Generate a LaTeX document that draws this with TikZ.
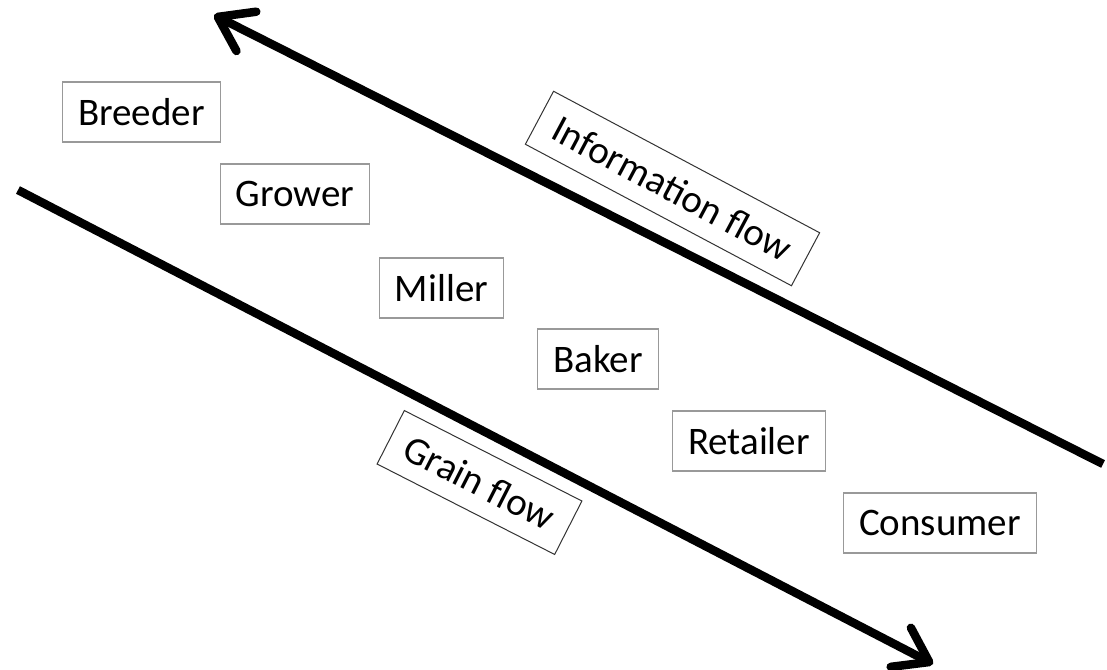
\documentclass[tikz,border=0pt]{standalone}
\usepackage{fontspec}
\setmainfont{Carlito}
\usetikzlibrary{arrows.meta}

\begin{document}
\begin{tikzpicture}[x=1pt,y=-1pt,
    actor/.style={draw=gray!80,line width=1.3pt,minimum height=60pt,inner xsep=15.5pt,font=\fontsize{39}{42}\selectfont},
    flowlabel/.style={draw=black!80,line width=1pt,minimum height=60pt,inner xsep=18pt,font=\fontsize{39}{42}\selectfont},
    flow/.style={line width=8.5pt,-{Straight Barb[length=32pt,width=44pt,line cap=round,line join=round]}}]
    \useasboundingbox (0,0) rectangle (1107,669);
    \node[actor] (breeder) at (141.5,112) {Breeder};
    \node[actor] (grower) at (295,194) {Grower};
    \node[actor] (miller) at (441.5,288) {Miller};
    \node[actor] (baker) at (598,359) {Baker};
    \node[actor] (retailer) at (749,441) {Retailer};
    \node[actor] (consumer) at (940,523) {Consumer};
    \coordinate (infostart) at (1103,464);
    \coordinate (infoend) at (214,15);
    \coordinate (grainstart) at (18,190);
    \coordinate (grainend) at (933,664);
    \draw[flow] (infostart) -- (infoend);
    \draw[flow] (grainstart) -- (grainend);
    \node[flowlabel,rotate=-28] (info) at (672.5,188.5) {Information flow};
    \node[flowlabel,rotate=-27] (grain) at (479.5,482.5) {Grain flow};
\end{tikzpicture}
\end{document}
